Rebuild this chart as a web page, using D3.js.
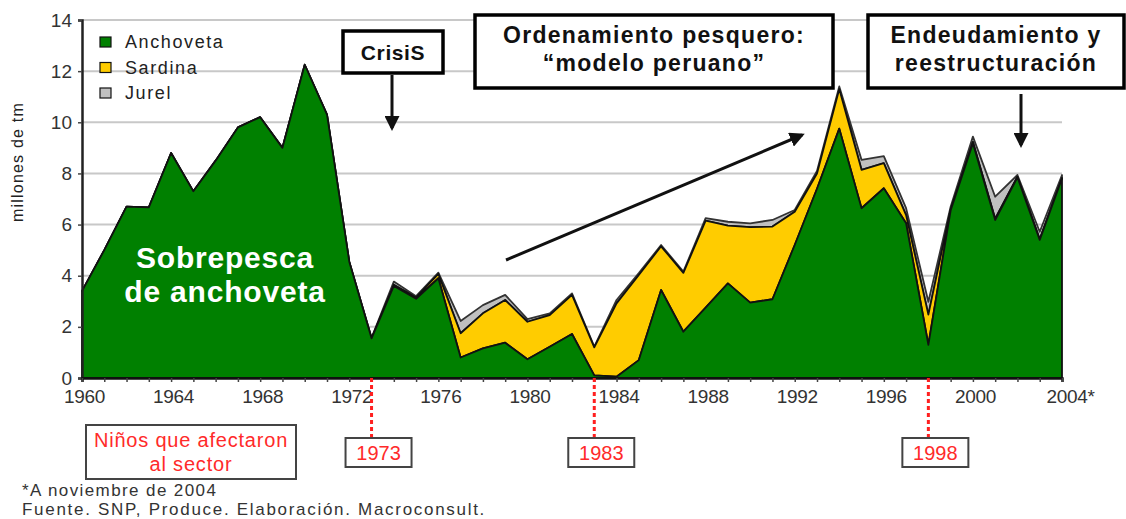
<!DOCTYPE html>
<html>
<head>
<meta charset="utf-8">
<script src="https://cdn.jsdelivr.net/npm/d3@7/dist/d3.min.js"></script>
<style>
  body { margin: 0; background: #fff; }
  svg { display: block; font-family: Arial, "Liberation Sans", sans-serif; }
</style>
</head>
<body>
<svg id="chart" width="1126" height="519"></svg>
<script>
// catch in millions of tonnes
const years = [1960, 1961, 1962, 1963, 1964, 1965, 1966, 1967, 1968, 1969,
               1970, 1971, 1972, 1973, 1974, 1975, 1976, 1977, 1978, 1979,
               1980, 1981, 1982, 1983, 1984, 1985, 1986, 1987, 1988, 1989,
               1990, 1991, 1992, 1993, 1994, 1995, 1996, 1997, 1998, 1999,
               2000, 2001, 2002, 2003, 2004];
const anchoveta = [3.4, 5.0, 6.7, 6.67, 8.8, 7.3, 8.5, 9.8, 10.2, 9.0,
                   12.25, 10.3, 4.55, 1.55, 3.6, 3.1, 3.9, 0.8, 1.16, 1.38,
                   0.73, 1.22, 1.72, 0.1, 0.05, 0.7, 3.44, 1.81, 2.75, 3.7,
                   2.95, 3.08, 5.2, 7.4, 9.75, 6.64, 7.42, 6.05, 1.3, 6.55,
                   9.18, 6.18, 7.85, 5.4, 7.8];
const sardina = [0, 0, 0, 0, 0, 0, 0, 0, 0, 0,
                 0, 0, 0, 0, 0.05, 0.05, 0.17, 0.95, 1.37, 1.67,
                 1.47, 1.24, 1.53, 1.1, 2.87, 3.33, 1.71, 2.3, 3.4, 2.26,
                 2.95, 2.84, 1.3, 0.6, 1.55, 1.5, 0.98, 0.32, 1.18, 0.05,
                 0.05, 0.05, 0.02, 0.02, 0.02];
const jurel = [0, 0, 0, 0, 0, 0, 0, 0, 0, 0,
               0, 0, 0, 0.02, 0.12, 0.05, 0.05, 0.48, 0.32, 0.2,
               0.1, 0.07, 0.06, 0.03, 0.13, 0.07, 0.05, 0.05, 0.1, 0.15,
               0.15, 0.26, 0.07, 0.1, 0.1, 0.39, 0.28, 0.27, 0.5, 0.1,
               0.21, 0.86, 0.07, 0.3, 0.12];

const seriesNames = ["Anchoveta", "Sardina", "Jurel"];
const seriesColors = ["#008000", "#ffcc00", "#c0c0c0"];
const yTicks = [0, 2, 4, 6, 8, 10, 12, 14];
const xLabels = {1960: "1960", 1964: "1964", 1968: "1968", 1972: "1972", 1976: "1976",
                 1980: "1980", 1984: "1984", 1988: "1988", 1992: "1992", 1996: "1996",
                 2000: "2000", 2004: "2004*"};
const ninoYears = [1973, 1983, 1998];

const svg = d3.select("#chart");

const x = d3.scaleLinear().domain([1960, 2004]).range([82, 1062]);
const y = d3.scaleLinear().domain([0, 14]).range([378, 20]);

// grid
svg.append("g")
    .selectAll("line")
    .data(yTicks.filter(d => d > 0))
    .enter()
    .append("line")
    .attr("x1", x(1960)).attr("x2", x(2004))
    .attr("y1", d => y(d)).attr("y2", d => y(d))
    .attr("stroke", "#c8c8c8")
    .attr("stroke-width", 2);

// stacked areas
const table = years.map((yr, i) => ({year: yr, Anchoveta: anchoveta[i], Sardina: sardina[i], Jurel: jurel[i]}));
const stacked = d3.stack().keys(seriesNames)(table);

const area = d3.area()
    .x(d => x(d.data.year))
    .y0(d => y(d[0]))
    .y1(d => y(d[1]));

svg.append("g")
    .selectAll("path")
    .data(stacked.slice().reverse())
    .enter()
    .append("path")
    .attr("d", area)
    .attr("fill", d => seriesColors[d.index])
    .attr("stroke", d => d.index === 2 ? "#333" : "#111")
    .attr("stroke-width", 1.8)
    .attr("stroke-linejoin", "round");

// axes
const yAxis = svg.append("g")
    .attr("transform", "translate(" + x(1960) + ",0)")
    .call(d3.axisLeft(y).tickValues(yTicks).tickSize(4).tickPadding(6));
yAxis.select(".domain").attr("stroke", "#222").attr("stroke-width", 2.5);
yAxis.selectAll(".tick line").attr("stroke", "#444").attr("stroke-width", 1.5);
yAxis.selectAll("text").attr("font-size", 19).attr("fill", "#333").attr("font-family", "Arial, 'Liberation Sans', sans-serif");

const xAxis = svg.append("g")
    .attr("transform", "translate(0," + y(0) + ")")
    .call(d3.axisBottom(x).tickValues(years).tickSize(4).tickPadding(8)
        .tickFormat(d => xLabels[d] || ""));
xAxis.select(".domain").attr("stroke", "#111").attr("stroke-width", 2.5);
xAxis.selectAll(".tick line").attr("stroke", "#444").attr("stroke-width", 1.5);
xAxis.selectAll("text").attr("font-size", 19).attr("fill", "#333")
    .attr("letter-spacing", -0.3)
    .attr("font-family", "Arial, 'Liberation Sans', sans-serif")
    .attr("dx", d => d === 2004 ? 8 : 2);

svg.append("text")
    .attr("transform", "translate(23,162) rotate(-90)")
    .attr("text-anchor", "middle")
    .attr("font-size", 16)
    .attr("letter-spacing", 1.2)
    .attr("fill", "#222")
    .text("millones de tm");

// legend
const legend = svg.append("g").selectAll("g")
    .data(seriesNames)
    .enter()
    .append("g")
    .attr("transform", (d, i) => "translate(100," + (37 + i * 25.5) + ")");
legend.append("rect")
    .attr("width", 11).attr("height", 10)
    .attr("fill", (d, i) => seriesColors[i])
    .attr("stroke", "#111").attr("stroke-width", 1.2);
legend.append("text")
    .attr("x", 25).attr("y", 11)
    .attr("font-size", 18)
    .attr("letter-spacing", 1.6)
    .attr("fill", "#222")
    .text(d => d);

// big label on the anchoveta area
svg.append("text")
    .attr("x", 225).attr("y", 268)
    .attr("text-anchor", "middle")
    .attr("font-size", 30).attr("font-weight", "bold")
    .attr("letter-spacing", 0.8)
    .attr("fill", "#fff")
    .text("Sobrepesca");
svg.append("text")
    .attr("x", 225).attr("y", 302)
    .attr("text-anchor", "middle")
    .attr("font-size", 30).attr("font-weight", "bold")
    .attr("letter-spacing", 0.8)
    .attr("fill", "#fff")
    .text("de anchoveta");

// arrow marker
svg.append("defs").append("marker")
    .attr("id", "head")
    .attr("viewBox", "0 0 10 10")
    .attr("refX", 8).attr("refY", 5)
    .attr("markerWidth", 5).attr("markerHeight", 5)
    .attr("orient", "auto")
    .append("path")
    .attr("d", "M0,0 L10,5 L0,10 z")
    .attr("fill", "#111");

// annotation boxes
function box(x0, y0, w, h, lines, size, spacing) {
    svg.append("rect")
        .attr("x", x0).attr("y", y0).attr("width", w).attr("height", h)
        .attr("fill", "#fff").attr("stroke", "#000").attr("stroke-width", 3.5);
    lines.forEach((t, i) => {
        svg.append("text")
            .attr("x", x0 + w / 2)
            .attr("y", y0 + (lines.length === 1 ? h / 2 + 8 : 28 + i * 28))
            .attr("text-anchor", "middle")
            .attr("font-size", size).attr("font-weight", "bold")
            .attr("letter-spacing", spacing)
            .attr("fill", "#111")
            .text(t);
    });
}
box(343, 31, 100, 42, ["CrisiS"], 21, 0.6);
box(475, 15, 358, 73, ["Ordenamiento pesquero:", "\u201cmodelo peruano\u201d"], 23, 1.3);
box(868, 15, 256, 73, ["Endeudamiento y", "reestructuraci\u00f3n"], 23, 1.3);

function arrow(x1, y1, x2, y2) {
    svg.append("line")
        .attr("x1", x1).attr("y1", y1).attr("x2", x2).attr("y2", y2)
        .attr("stroke", "#111").attr("stroke-width", 3)
        .attr("marker-end", "url(#head)");
}
arrow(392, 75, 392, 128);
arrow(1021, 94, 1021, 145);
arrow(506, 260, 802, 135);

// El Niño markers
svg.append("g").selectAll("line")
    .data(ninoYears)
    .enter()
    .append("line")
    .attr("x1", d => x(d)).attr("x2", d => x(d))
    .attr("y1", y(0)).attr("y2", 438)
    .attr("stroke", "#ff2020").attr("stroke-width", 3)
    .attr("stroke-dasharray", "4,3");
const nino = svg.append("g").selectAll("g")
    .data(ninoYears)
    .enter()
    .append("g")
    .attr("transform", d => "translate(" + (x(d) + 7) + ",0)");
nino.append("rect")
    .attr("x", -33).attr("y", 438).attr("width", 66).attr("height", 29)
    .attr("fill", "#fff").attr("stroke", "#444").attr("stroke-width", 2);
nino.append("text")
    .attr("y", 460).attr("text-anchor", "middle")
    .attr("font-size", 20).attr("fill", "#ff2a2a")
    .text(d => d);

svg.append("rect")
    .attr("x", 86).attr("y", 425).attr("width", 210).attr("height", 54)
    .attr("fill", "#fff").attr("stroke", "#444").attr("stroke-width", 2);
svg.append("text")
    .attr("x", 191).attr("y", 447).attr("text-anchor", "middle")
    .attr("font-size", 20).attr("letter-spacing", 0.8).attr("fill", "#ff2a2a")
    .text("Ni\u00f1os que afectaron");
svg.append("text")
    .attr("x", 191).attr("y", 471).attr("text-anchor", "middle")
    .attr("font-size", 20).attr("letter-spacing", 0.8).attr("fill", "#ff2a2a")
    .text("al sector");

// footnotes
svg.append("text")
    .attr("x", 22).attr("y", 496)
    .attr("font-size", 17).attr("fill", "#333")
    .attr("letter-spacing", 1.4)
    .text("*A noviembre de 2004");
svg.append("text")
    .attr("x", 22).attr("y", 515)
    .attr("font-size", 17).attr("fill", "#333")
    .attr("letter-spacing", 1.7)
    .text("Fuente. SNP, Produce. Elaboraci\u00f3n. Macroconsult.");
</script>
</body>
</html>
